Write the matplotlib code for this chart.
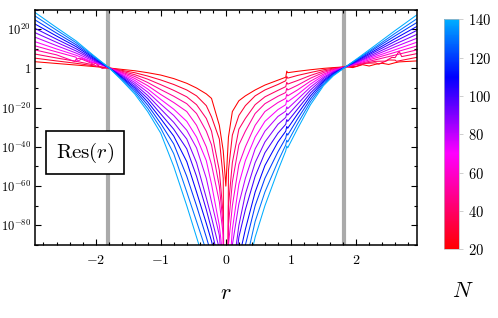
import numpy as np
import matplotlib
matplotlib.use('Agg')
import matplotlib.pyplot as plt
from matplotlib.colors import LinearSegmentedColormap, Normalize
from matplotlib.cm import ScalarMappable
from matplotlib.ticker import FixedLocator, FuncFormatter, MultipleLocator, NullFormatter

plt.rcParams['mathtext.fontset'] = 'cm'
plt.rcParams['font.family'] = 'serif'

r_grid = [-2.93, -2.6, -2.3, -2.05, -1.79, -1.6, -1.4, -1.2, -1.0, -0.8, -0.6, -0.45, -0.3, -0.22, -0.1, -0.04, 0.0,
          0.04, 0.1, 0.2, 0.3, 0.45, 0.6, 0.8, 0.92, 0.935, 0.95, 1.1, 1.3, 1.5, 1.65, 1.84, 2.05, 2.3, 2.6, 2.93]

n_values = [20, 30, 40, 50, 60, 70, 80, 90, 100, 110, 120, 130, 140]

# log10 Res(r) for each N
res_n20 = [3.4, 2.5, 1.7, 1.0, 0.2, -0.5, -1.2, -2.2, -3.4, -5.2, -7.6, -10, -13, -15.3, -29, -42, -60,
           -35, -22, -16.5, -14, -11, -8.5, -6, -4.5, -1.4, -2.2, -1.5, -0.7, 0, 0.4, 0.8, 1.4, 2.1, 2.9, 3.8]
res_n30 = [5.2, 3.8, 2.6, 1.4, 0.2, -1.0, -2.2, -3.9, -5.9, -8.2, -11, -14, -19, -24.7, -36, -56, -300,
           -52, -34, -24, -19, -14, -11, -8.2, -6.3, -4.1, -5.0, -3.6, -2.1, -0.7, 0.1, 0.8, 1.7, 2.8, 4.2, 5.6]
res_n40 = [7.3, 5.3, 3.6, 1.9, 0.2, -1.4, -3.2, -5.5, -8.3, -11.2, -14.5, -18.5, -25.5, -32, -52, -75, -300,
           -70, -48, -31, -25.5, -18.5, -14.5, -11.2, -9.3, -7.1, -8.0, -6.2, -3.6, -1.4, -0.3, 0.8, 2.1, 3.6, 5.5, 7.5]
res_n50 = [9.4, 6.9, 4.6, 2.4, 0.2, -1.9, -4.1, -7.2, -10.8, -14.2, -18, -23, -32, -39, -60, -80, -300,
           -80, -58, -39, -32, -23, -18, -14.2, -12.3, -10.1, -11.0, -8.6, -5.0, -2.1, -0.6, 0.8, 2.4, 4.4, 6.8, 9.4]
res_n60 = [11.5, 8.4, 5.7, 2.9, 0.2, -2.3, -5.1, -8.8, -13.3, -17.4, -22, -29, -40, -49, -68, -85, -300,
           -90, -70, -49, -40, -29, -22, -17.4, -15.3, -13.1, -14, -11, -6.5, -2.9, -1.0, 0.8, 2.8, 5.3, 8.2, 11.4]
res_n70 = [13.6, 9.9, 6.7, 3.4, 0.2, -2.8, -6.1, -10.5, -15.8, -20.8, -27, -35, -47, -59, -80, -98, -300,
           -110, -82, -59, -47, -35, -27, -21, -18.5, -16.1, -17, -13.4, -8, -3.6, -1.3, 0.8, 3.2, 6.1, 9.5, 13.3]
res_n80 = [15.9, 11.6, 7.8, 4.0, 0.2, -3.3, -7.1, -12.1, -18.2, -24, -31.5, -40.5, -56, -68, -85, -110, -300,
           -130, -90, -69, -56, -41, -32, -24.5, -21.8, -19.6, -20.5, -15.8, -9.5, -4.4, -1.7, 0.8, 3.6, 6.9, 11.0, 15.3]
res_n90 = [18.2, 13.3, 8.9, 4.6, 0.2, -3.7, -8.1, -13.8, -20.7, -27.5, -36, -48, -66, -76, -92, -120, -300,
           -140, -105, -80, -64, -48, -37.5, -28.5, -25, -22.9, -23.8, -18.3, -11, -5.1, -2.0, 0.8, 3.9, 7.7, 12.4, 17.3]
res_n100 = [20.4, 14.9, 10.0, 5.1, 0.2, -4.2, -9.1, -15.4, -23.2, -31, -41, -55, -72, -82, -100, -130, -300,
            -150, -115, -86, -72, -55, -43, -33, -28.5, -26.1, -27, -20.8, -12.5, -5.9, -2.4, 0.8, 4.3, 8.6, 13.8, 19.3]
res_n110 = [22.6, 16.5, 11.1, 5.7, 0.2, -4.6, -10.0, -17.1, -25.6, -34.5, -47.5, -63, -79, -88, -105, -140, -300,
            -160, -125, -97, -82, -63, -49.5, -37.5, -32, -29.6, -30.5, -23.3, -14, -6.6, -2.7, 0.8, 4.7, 9.4, 15.2, 21.3]
res_n120 = [24.7, 18.0, 12.1, 6.2, 0.2, -5.1, -11.0, -18.7, -28.1, -38.5, -55, -70, -86, -95, -110, -150, -300,
            -170, -135, -105, -90, -70, -56, -42.5, -35.5, -33.1, -34, -25.8, -15.5, -7.3, -3.1, 0.8, 5.1, 10.3, 16.6, 23.3]
res_n130 = [26.7, 19.5, 13.1, 6.7, 0.2, -5.5, -12.0, -20.4, -30.5, -43.5, -63, -78, -93, -101, -115, -160, -300,
            -180, -145, -115, -100, -78, -63, -47.5, -39, -36.6, -37.5, -28.3, -17, -8.1, -3.4, 0.8, 5.4, 11.0, 17.9, 25.2]
res_n140 = [28.5, 20.8, 14.0, 7.1, 0.2, -6.0, -13.0, -22.0, -33.0, -50, -70, -86, -102, -112, -130, -170, -300,
            -190, -155, -125, -108, -86, -70, -52, -42, -39.6, -40.5, -30.8, -18.5, -8.8, -3.8, 0.8, 5.8, 11.9, 19.3, 27.2]

curves = [res_n20, res_n30, res_n40, res_n50, res_n60, res_n70, res_n80,
          res_n90, res_n100, res_n110, res_n120, res_n130, res_n140]

# numerical noise wiggles on the low-N curves (extra read points: r, log10 Res)
wiggle_n20 = [(1.95, 0.4), (2.1, 1.9), (2.2, 1.2), (2.4, 2.6), (2.5, 2.0), (2.66, 3.3)]
wiggle_n30 = [(2.0, 1.0), (2.15, 2.6), (2.35, 2.2), (2.5, 4.3), (2.62, 3.6)]
wiggle_n40 = [(-2.0, 2.6), (-1.9, 0.0), (2.45, 3.7), (2.55, 5.6), (2.66, 8.8), (2.7, 6.0)]
wiggle_n50 = [(-2.32, 3.5), (-2.25, 5.2), (-1.98, 1.0), (-1.92, 2.8)]
wiggle_n60 = [(-2.28, 3.6), (-2.2, 5.0), (-1.95, 3.6)]
wiggles = {20: wiggle_n20, 30: wiggle_n30, 40: wiggle_n40, 50: wiggle_n50, 60: wiggle_n60}

r_marks = [-1.81, 1.81]   # grey vertical lines
cbar_ticks = [20, 40, 60, 80, 100, 120, 140]

# colour scale red -> magenta -> blue -> light blue
cmap = LinearSegmentedColormap.from_list(
    'resN', [(0.0, (1, 0, 0)), (50 / 120, (1, 0, 1)), (90 / 120, (0, 0, 1)), (1.0, (0, 0.68, 1))])
norm = Normalize(vmin=20, vmax=140)

fig = plt.figure(figsize=(4.98, 3.18), dpi=100)
ax = fig.add_axes([0.0703, 0.2296, 0.7664, 0.7405])

for xv in r_marks:
    ax.axvline(xv, color='#aaaaaa', lw=3.0, zorder=1)

for n, vals in zip(n_values, curves):
    pts = list(zip(r_grid, vals)) + wiggles.get(n, [])
    pts.sort(key=lambda p: p[0])
    rr = [p[0] for p in pts]
    yy = 10.0 ** np.array([p[1] for p in pts])
    ax.plot(rr, yy, color=cmap(norm(n)), lw=0.75, zorder=2)

ax.set_yscale('log')
ax.set_xlim(-2.93, 2.93)
ax.set_ylim(1e-90, 1e30)

# ticks
ax.xaxis.set_major_locator(FixedLocator([-2, -1, 0, 1, 2]))
ax.xaxis.set_minor_locator(MultipleLocator(0.2))
ax.xaxis.set_major_formatter(FuncFormatter(lambda v, p: r'$%d$' % round(v)))

major_y = [10.0 ** k for k in range(-80, 21, 20)]
minor_y = [10.0 ** k for k in range(-90, 31, 10) if k % 20 != 0]
ax.yaxis.set_major_locator(FixedLocator(major_y))
ax.yaxis.set_minor_locator(FixedLocator(minor_y))
ax.yaxis.set_minor_formatter(NullFormatter())


def ylab(v, p):
    k = int(round(np.log10(v)))
    if k == 0:
        return r'$1$'
    return r'$10^{%d}$' % k


ax.yaxis.set_major_formatter(FuncFormatter(ylab))
ax.tick_params(which='both', direction='in', top=True, right=True, width=0.8)
ax.tick_params(which='major', length=4)
ax.tick_params(which='minor', length=2.5)
ax.tick_params(axis='x', labelsize=10, pad=6)
ax.tick_params(axis='y', labelsize=9, pad=3)
for sp in ax.spines.values():
    sp.set_linewidth(1.1)

ax.text(0.131, 0.391, r'$\mathrm{Res}(r)$', transform=ax.transAxes, ha='center', va='center',
        fontsize=15, zorder=5,
        bbox=dict(boxstyle='square,pad=0.45', fc='white', ec='black', lw=1.2))

fig.text(0.454, 0.079, r'$r$', fontsize=16, ha='center', va='center')
fig.text(0.930, 0.085, r'$N$', fontsize=16, ha='center', va='center')

# colour bar
cax = fig.add_axes([0.892, 0.216, 0.0301, 0.7233])
sm = ScalarMappable(norm=norm, cmap=cmap)
cb = fig.colorbar(sm, cax=cax, ticks=cbar_ticks)
cb.outline.set_linewidth(0.5)
cb.outline.set_edgecolor('#bbbbbb')
cb.ax.tick_params(length=3, width=0.5, color='#bbbbbb', labelsize=10.5, pad=3)
cb.ax.yaxis.set_major_formatter(FuncFormatter(lambda v, p: r'$%d$' % round(v)))

fig.savefig('out.png', dpi=100)
